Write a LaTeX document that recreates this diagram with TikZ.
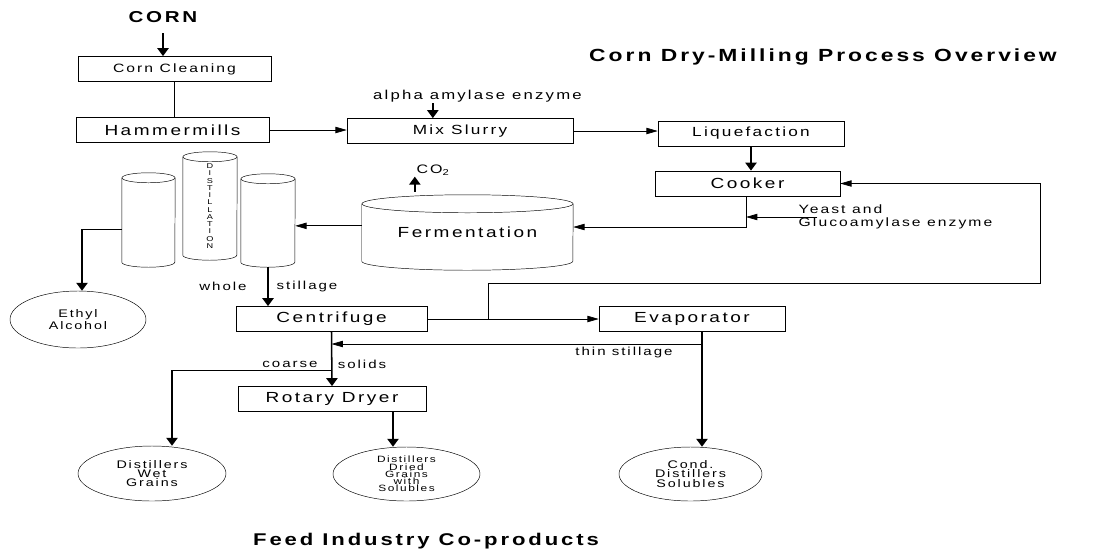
\documentclass[tikz,border=0pt]{standalone}
\usepackage{fontspec}
\setmainfont{Liberation Sans}[FakeStretch=1.3, LetterSpace=17]
\usetikzlibrary{positioning,shapes.geometric,arrows.meta}

\begin{document}
\begin{tikzpicture}[
            x=0.03cm, y=-0.03cm,
            box/.style={draw, rectangle, inner sep=0pt, minimum height=0.76cm, font=\fontsize{12.5}{14}\selectfont},
            pot/.style={draw, ellipse, inner sep=0pt, align=center, font=\fontsize{9.4}{7.8}\selectfont},
            tank/.style={rectangle, inner sep=0pt},
            lbl/.style={inner sep=1pt, font=\fontsize{9.9}{11.5}\selectfont},
            head/.style={inner sep=0pt, font=\bfseries\fontsize{15}{17}\selectfont},
            flow/.style={-{Triangle[length=3.4mm,width=1.9mm]}, line width=0.6pt},
            drop/.style={-{Triangle[length=2.4mm,width=3.4mm]}, line width=1.3pt}
        ]
        \useasboundingbox (0,0) rectangle (1117,548);

        % titles
        \node[head] (title) at (823,57) {Corn Dry-Milling Process Overview};
        \node[head, font=\bfseries\fontsize{14.5}{17}\selectfont] (feed) at (426,541) {Feed Industry Co-products};
        \node[head, font=\bfseries\fontsize{13.5}{15}\selectfont] (corn) at (163,17) {CORN};

        % milling and cooking
        \node[box, minimum width=5.79cm, font=\fontsize{10.3}{12}\selectfont] (clean) at (174.5,69) {Corn Cleaning};
        \node[box, minimum width=5.79cm] (hammer) at (172.5,130) {Hammermills};
        \node[box, minimum width=6.78cm, font=\fontsize{11.3}{13}\selectfont] (mix) at (460,131) {Mix Slurry};
        \node[box, minimum width=5.58cm, font=\fontsize{11.3}{13}\selectfont] (liq) at (751,133.5) {Liquefaction};
        \node[box, minimum width=5.55cm] (cook) at (747.5,183.5) {Cooker};
        \node[lbl, font=\fontsize{11}{13}\selectfont] (alpha) at (477.5,96) {alpha amylase enzyme};
        \node[lbl, align=left, font=\fontsize{10.3}{11.5}\selectfont] (yeast) at (895.5,217) {Yeast and\\Glucoamylase enzyme};

        % fermentation and distillation (tank bodies, ends drawn below)
        \node[tank, minimum width=6.33cm, minimum height=1.71cm, font=\fontsize{12.5}{14}\selectfont] (ferm) at (467.5,232.5) {Fermentation};
        \node[lbl, font=\fontsize{10.5}{12}\selectfont] (co2) at (433,170) {CO\textsubscript{2}};
        \node[tank, minimum width=1.59cm, minimum height=2.52cm] (colL) at (148.5,220) {};
        \node[tank, minimum width=1.62cm, minimum height=2.94cm, align=center, font=\fontsize{6}{6.2}\selectfont] (colM) at (210,206) {D\\I\\S\\T\\I\\L\\L\\A\\T\\I\\O\\N};
        \node[tank, minimum width=1.62cm, minimum height=2.49cm] (colR) at (268,220.5) {};
        \foreach \t/\rx/\ry in {ferm/3.165cm/0.27cm, colL/0.795cm/0.15cm, colM/0.81cm/0.15cm, colR/0.81cm/0.15cm}{
            \draw (\t.north west) -- (\t.south west) arc[start angle=180, end angle=360, x radius=\rx, y radius=\ry] -- (\t.north east);
            \draw (\t.north) ellipse [x radius=\rx, y radius=\ry];
        }

        % separation
        \node[box, minimum width=5.73cm] (centri) at (331.5,319) {Centrifuge};
        \node[box, minimum width=5.58cm] (evap) at (692,319) {Evaporator};
        \node[box, minimum width=5.64cm] (rotary) at (332,399) {Rotary Dryer};
        \node[lbl] (whole) at (223,286) {whole};
        \node[lbl] (still) at (307,286) {stillage};
        \node[lbl] (coarse) at (290,364) {coarse};
        \node[lbl] (solids) at (362,364) {solids};
        \node[lbl] (thinlbl) at (624,352) {thin stillage};

        % products
        \node[pot, minimum width=4.08cm, minimum height=1.71cm] (ethyl) at (78,319.5) {Ethyl\\Alcohol};
        \node[pot, minimum width=4.44cm, minimum height=1.65cm] (dwg) at (152,473.5) {Distillers\\Wet\\Grains};
        \node[pot, minimum width=4.41cm, minimum height=1.62cm, font=\fontsize{7.8}{6.2}\selectfont] (ddgs) at (406.5,474) {Distillers\\Dried\\Grains\\with\\Solubles};
        \node[pot, minimum width=4.29cm, minimum height=1.62cm] (cds) at (690.5,474) {Cond.\\Distillers\\Solubles};

        \coordinate (join) at (746,227);
        \coordinate (split) at (488,319);
        \coordinate (back) at (1040,283);
        \coordinate (thin) at (702,344);
        \coordinate (wet) at (331.5,370);
        \coordinate (wetbend) at (172,370);
        \coordinate (spirit) at (82,229);

        % connectors
        \draw[drop] (corn.south |- 0,33) -- (corn.south |- clean.north);
        \draw[line width=1.3pt] (clean) -- (clean |- hammer.north);
        \draw[flow] (hammer.east) -- (hammer.east -| mix.west);
        \draw[drop] ([xshift=-1.34cm]alpha.south) -- ([xshift=-1.34cm]alpha.south |- mix.north);
        \draw[flow] (mix.east) -- (mix.east -| liq.west);
        \draw[drop] (liq.south) -- (liq.south |- cook.north);
        \draw[flow] (cook.south -| join) -- (join) -- (join -| ferm.east);
        \draw[flow] ([xshift=0.6cm]yeast.west) -- (yeast.west -| join);
        \draw[drop] ([xshift=-1.58cm,yshift=0.36cm]ferm.north) -- ([xshift=-1.58cm]ferm.north |- co2.south);
        \draw[flow] ([yshift=0.2cm]ferm.west) -- ([yshift=0.2cm]ferm.west -| colR.east);
        \draw[line width=0.6pt] (spirit -| colL.west) -- (spirit);
        \draw[drop] (spirit) -- (spirit |- ethyl.north);
        \draw[drop] ([yshift=-0.15cm]colR.south) -- (colR.south |- centri.north);
        \draw[flow] (centri.east) -- (evap.west);
        \draw[flow] (split) |- (back) |- (cook.east);
        \draw[drop] (thin |- evap.south) -- (thin |- cds.north);
        \draw[flow] (thin) -- (thin -| centri.south);
        \draw[drop] (centri.south) -- (rotary.north);
        \draw[line width=0.6pt] (wet) -- (wetbend);
        \draw[drop] (wetbend) -- (wetbend |- dwg.north);
        \draw[drop] ([xshift=1.83cm]rotary.south) -- ([xshift=1.83cm]rotary.south |- ddgs.north);
        \end{tikzpicture}
\end{document}
